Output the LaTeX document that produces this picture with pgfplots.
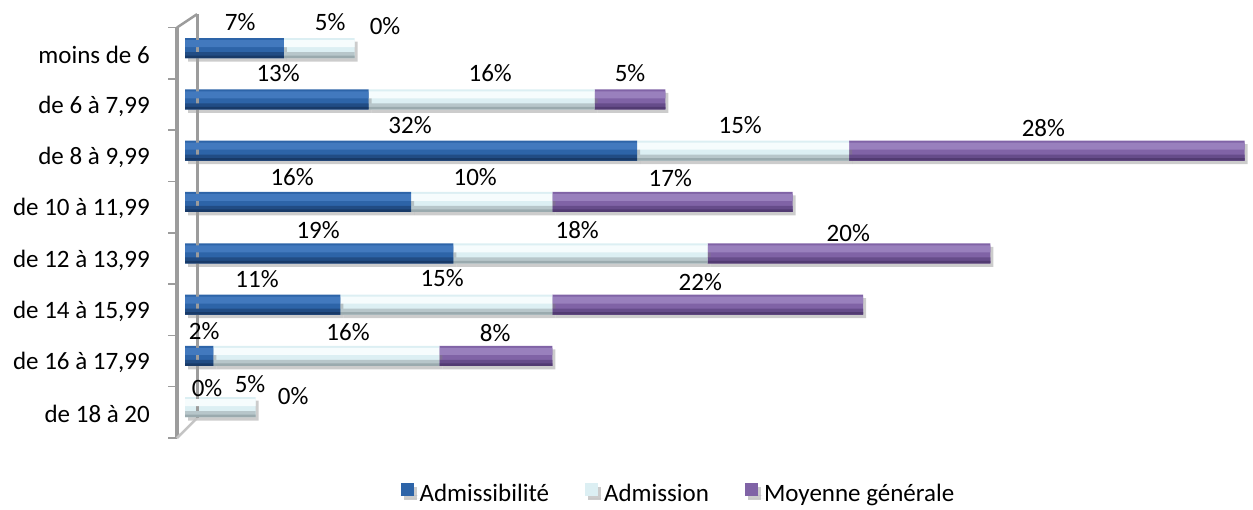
\documentclass[border=0pt]{standalone}
\usepackage{fontspec}
\setmainfont{Carlito}
\usepackage{pgfplots}
\usepackage{pgfplotstable}
\pgfplotsset{compat=1.18}
\usetikzlibrary{shadows}
\definecolor{blueM}{HTML}{2D64A8}
\definecolor{blueH}{HTML}{4279BE}
\definecolor{blueD}{HTML}{214C84}
\definecolor{blueDD}{HTML}{183A68}
\definecolor{admM}{HTML}{DCEFF3}
\definecolor{admH}{HTML}{F6FCFD}
\definecolor{admD}{HTML}{B7C6CA}
\definecolor{admDD}{HTML}{9AAAAE}
\definecolor{purM}{HTML}{8063A6}
\definecolor{purH}{HTML}{9980BD}
\definecolor{purD}{HTML}{664C8A}
\definecolor{purDD}{HTML}{523B72}
\definecolor{wall}{HTML}{9C9C9C}

\pgfplotstableread{
y adm admi moy
7 7 5 0
6 13 16 5
5 32 15 28
4 16 10 17
3 19 18 20
2 11 15 22
1 2 16 8
0 0 5 0
}\data

\pgfplotsset{common/.style={
  at={(177pt,-438pt)}, anchor=south west,
  scale only axis, width=1076pt, height=410.5pt,
  xmin=-0.57, xmax=75.6, ymin=-0.6, ymax=7.4,
  clip=false}}

\newcommand{\barlayer}[5]{%
\begin{axis}[common, hide axis, xbar stacked, bar width=#1, bar shift=#2]
\addplot[fill=#3, draw=none] table[x=adm, y=y]{\data};
\addplot[fill=#4, draw=none] table[x=admi, y=y]{\data};
\addplot[fill=#5, draw=none] table[x=moy, y=y]{\data};
\end{axis}}

\begin{document}
\fontsize{25}{30}\selectfont
\begin{tikzpicture}
\begin{axis}[
  common,
  xbar stacked, bar width=20pt,
  axis x line=none,
  axis y line*=left,
  y axis line style={draw=wall, line width=4pt},
  ytick={-0.13,0.87,1.87,2.87,3.87,4.87,5.87,6.87},
  yticklabels={{de 18 à 20},{de 16 à 17,99},{de 14 à 15,99},{de 12 à 13,99},{de 10 à 11,99},{de 8 à 9,99},{de 6 à 7,99},{moins de 6}},
  major tick length=0pt,
  yticklabel style={inner sep=0pt, xshift=-27pt, anchor=east, text=black},
  extra y ticks={-0.6,0.4,1.4,2.4,3.4,4.4,5.4,6.4,7.4},
  extra y tick labels={},
  extra y tick style={major tick length=9pt, tick align=outside, tick style={draw=wall, line width=1.5pt}},
  legend style={at={(0.466,-0.139)}, anchor=center, draw=none, fill=none, legend columns=3,
    /tikz/every even column/.append style={column sep=34pt}},
  legend image code/.code={\path (0pt,0pt) -- (17pt,0pt);\fill[#1] (0pt,-1pt) rectangle (13pt,12pt);},
]
\draw[wall, line width=3pt] (axis cs:0.85,7.66) -- (axis cs:0.85,-0.21);
\draw[wall, line width=2.5pt] (axis cs:-0.57,7.4) -- (axis cs:0.85,7.66);
\draw[wall!60, line width=2.5pt] (axis cs:-0.57,-0.6) -- (axis cs:0.85,-0.21);

\addplot[draw=none, fill=blueM,
  drop shadow={shadow xshift=3pt, shadow yshift=-3.5pt, fill=gray, opacity=0.4}]
  table[x=adm, y=y]{\data};
\addplot[draw=none, fill=admM,
  drop shadow={shadow xshift=3pt, shadow yshift=-3.5pt, fill=gray, opacity=0.4}]
  table[x=admi, y=y]{\data};
\addplot[draw=none, fill=purM,
  drop shadow={shadow xshift=3pt, shadow yshift=-3.5pt, fill=gray, opacity=0.4}]
  table[x=moy, y=y]{\data};
\legend{Admissibilité, Admission, Moyenne générale}
\end{axis}

\barlayer{7pt}{4.5pt}{blueH}{admH}{purH}
\barlayer{6pt}{-7pt}{blueD}{admD}{purD}
\barlayer{2.5pt}{-8.75pt}{blueDD}{admDD}{purDD}

\begin{axis}[common, hide axis]
\addplot[only marks, mark=none, point meta=explicit symbolic,
  nodes near coords={\pgfplotspointmeta\%},
  nodes near coords style={anchor=center, inner sep=0pt, text=black}]
table[meta=v] {
x y v
3.9 7.507 7
10.27 7.507 5
14.16 7.429 0
6.59 6.513 13
21.6 6.513 16
31.5 6.513 5
15.93 5.499 32
39.3 5.499 15
60.76 5.44 28
7.58 4.485 16
20.54 4.485 10
34.35 4.466 17
9.42 3.452 19
27.76 3.452 18
46.95 3.394 20
5.1 2.497 11
18.2 2.517 15
36.47 2.439 22
1.35 1.483 2
11.54 1.463 16
21.95 1.444 8
1.56 0.372 0
4.6 0.45 5
7.65 0.216 0
};
\end{axis}
\pgfresetboundingbox
\useasboundingbox (0pt,0pt) rectangle (1253pt,-509pt);
\end{tikzpicture}
\end{document}
